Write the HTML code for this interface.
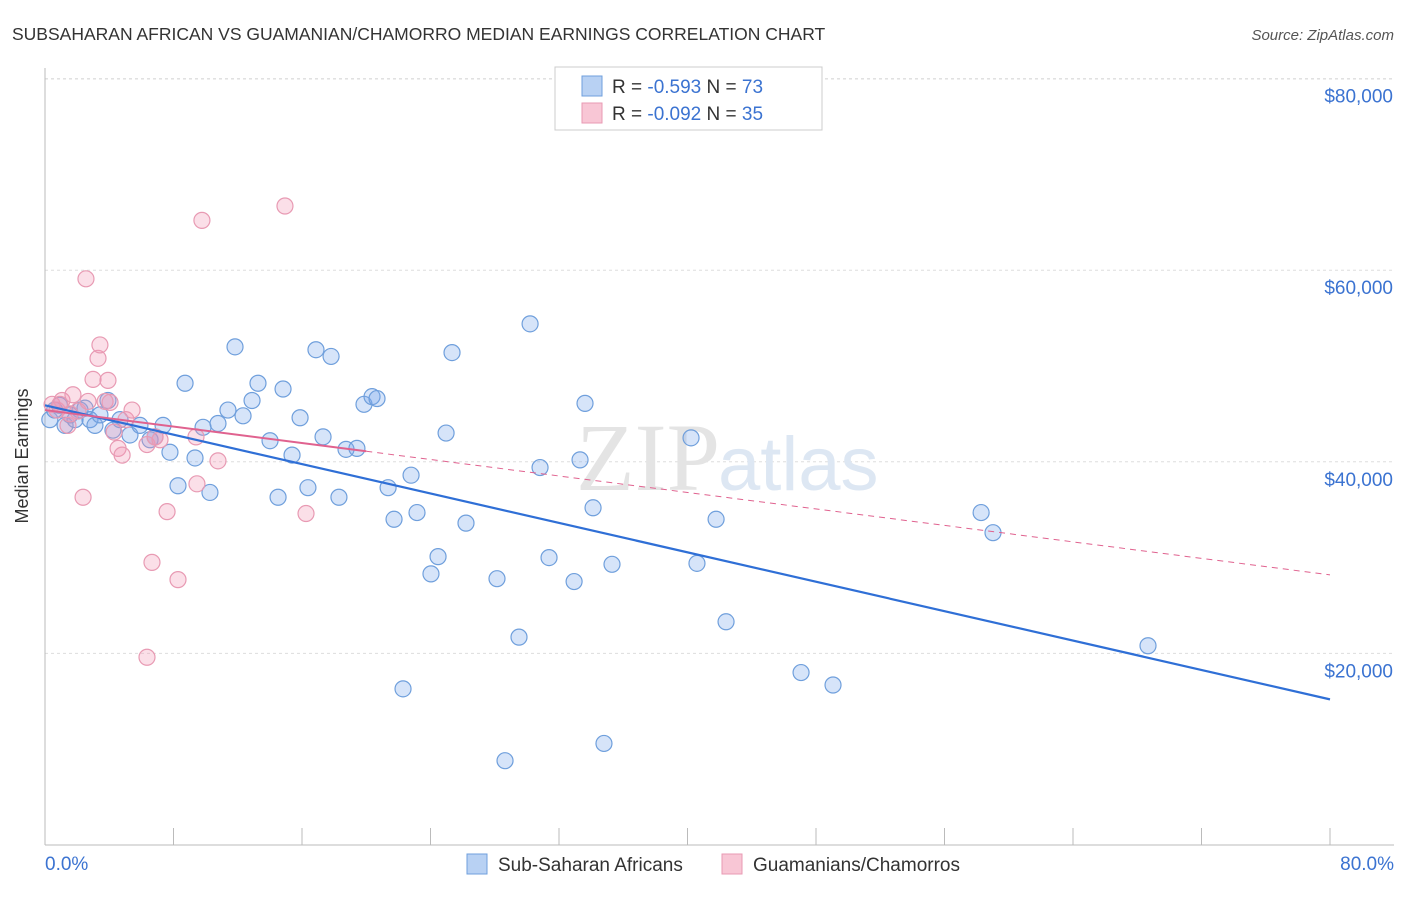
<!DOCTYPE html>
<html><head><meta charset="utf-8"><style>
body{margin:0;background:#fff;font-family:"Liberation Sans",sans-serif;}
</style></head><body>
<svg width="1406" height="892" xmlns="http://www.w3.org/2000/svg" font-family="Liberation Sans, sans-serif">
<text x="12" y="40" font-size="17.5" fill="#333">SUBSAHARAN AFRICAN VS GUAMANIAN/CHAMORRO MEDIAN EARNINGS CORRELATION CHART</text>
<text x="1394" y="40" font-size="15" fill="#555" font-style="italic" text-anchor="end">Source: ZipAtlas.com</text>
<g id="grid"></g>
<text x="720" y="490" font-size="96" fill="#e4e4e4" text-anchor="end" font-family="Liberation Serif, serif">ZIP</text>
<text x="718" y="490" font-size="76" fill="#dde7f3">atlas</text>
<g id="axes"></g>
<g id="pts"></g>
<g id="trend"></g>
<text x="28" y="456" font-size="18" fill="#333" text-anchor="middle" transform="rotate(-90 28 456)">Median Earnings</text>
<text x="45" y="870" font-size="19" fill="#3b73d1">0.0%</text>
<text x="1394" y="870" font-size="19" fill="#3b73d1" text-anchor="end">80.0%</text>
<g>
<rect x="555" y="67" width="267" height="63" fill="#fff" stroke="#ccc"/>
<rect x="582" y="76" width="20" height="20" fill="#b8d1f3" stroke="#6f9fdc"/>
<rect x="582" y="103" width="20" height="20" fill="#f8c6d5" stroke="#e89ab3"/>
<text x="612" y="93" font-size="19" fill="#333">R = <tspan fill="#3b73d1">-0.593</tspan>   N = <tspan fill="#3b73d1">73</tspan></text>
<text x="612" y="120" font-size="19" fill="#333">R = <tspan fill="#3b73d1">-0.092</tspan>   N = <tspan fill="#3b73d1">35</tspan></text>
</g>
<g>
<rect x="467" y="854" width="20" height="20" fill="#b8d1f3" stroke="#6f9fdc"/>
<text x="498" y="871" font-size="19" fill="#333">Sub-Saharan Africans</text>
<rect x="722" y="854" width="20" height="20" fill="#f8c6d5" stroke="#e89ab3"/>
<text x="753" y="871" font-size="19" fill="#333">Guamanians/Chamorros</text>
</g>
</svg>
<script>
const yTicks=[20000,40000,60000,80000];
const yTickLabels=["$20,000","$40,000","$60,000","$80,000"];
const xTicks=[0,8,16,24,32,40,48,56,64,72,80];
const blueX=[0.3,0.6,0.9,1.25,1.56,1.87,2.18,2.49,2.8,3.11,3.42,3.92,4.23,4.67,5.29,5.91,6.54,6.85,7.35,7.78,8.28,8.72,9.34,9.84,10.27,10.77,11.39,11.83,12.33,12.89,13.26,14.01,14.51,14.82,15.38,15.88,16.37,16.87,17.31,17.81,18.3,18.74,19.42,19.86,20.36,20.67,21.36,21.73,22.79,23.16,22.29,24.03,24.47,24.97,25.34,26.21,28.14,28.64,29.51,30.2,30.82,31.38,32.94,33.31,33.62,34.12,34.8,35.3,40.22,40.59,41.78,42.4,47.07,49.06,58.28,59.02,68.67];
const blueY=[44400,45400,45900,43800,44900,44400,45400,45600,44400,43800,44900,46400,43300,44400,42800,43800,42300,42600,43800,41000,37500,48200,40400,43600,36800,44000,45400,52000,44800,46400,48200,42200,36300,47600,40700,44600,37300,51700,42600,51000,36300,41300,41400,46000,46800,46600,37300,34000,38600,34700,16300,28300,30100,43000,51400,33600,27800,8800,21700,54400,39400,30000,27500,40200,46100,35200,10600,29300,42500,29400,34000,23300,18000,16700,34700,32600,20800];
const pinkX=[0.44,0.75,1.06,1.43,1.74,2.05,2.37,2.55,2.68,2.99,3.3,3.42,3.74,3.92,4.3,4.55,4.8,5.04,5.42,6.35,6.66,6.85,7.16,7.6,8.28,6.35,9.4,9.46,9.77,10.77,14.94,16.25,0.93,1.56,4.05];
const pinkY=[46000,45400,46400,43800,47000,45300,36300,59100,46300,48600,50800,52200,46300,48500,43100,41400,40700,44400,45400,41800,29500,42600,42300,34800,27700,19600,42600,37700,65200,40100,66700,34600,46000,45000,46200];
const blueTrend=[[0,45900],[80,15200]];
const pinkTrend=[[0,45400],[20,41100],[80,28200]];
const NS="http://www.w3.org/2000/svg";
const sx=v=>45+v/80*1285, sy=v=>845-v/20000*191.6;
function mk(t,a,p){const e=document.createElementNS(NS,t);for(const k in a)e.setAttribute(k,a[k]);p.appendChild(e);return e;}
const grid=document.getElementById('grid'),axes=document.getElementById('axes');
yTicks.forEach((v,i)=>{
 const l=mk('line',{x1:45,x2:1394,y1:sy(v),y2:sy(v),stroke:'#ddd','stroke-dasharray':'3,3'},grid);
 
 
 const t=mk('text',{x:1393,y:sy(v)+24,'font-size':19,fill:'#3b73d1','text-anchor':'end'},grid);
 t.textContent=yTickLabels[i];
 
 
});
mk('line',{x1:45,x2:1394,y1:79,y2:79,stroke:'#ddd','stroke-dasharray':'3,3'},grid);
mk('line',{x1:45,x2:45,y1:68,y2:845,stroke:'#bbb'},axes);
mk('line',{x1:45,x2:1394,y1:845,y2:845,stroke:'#bbb'},axes);
xTicks.forEach(v=>{const t=mk('line',{x1:sx(v),x2:sx(v),y1:828,y2:845,stroke:'#bbb'},axes);
 
 });
const pts=document.getElementById('pts');
blueX.forEach((x,i)=>{const c=mk('circle',{cx:sx(x),cy:sy(blueY[i]),r:8,fill:'rgba(120,165,235,0.3)',stroke:'#6f9fdc','stroke-width':1.2},pts);
 
 });
pinkX.forEach((x,i)=>{const c=mk('circle',{cx:sx(x),cy:sy(pinkY[i]),r:8,fill:'rgba(242,150,180,0.3)',stroke:'#e89ab3','stroke-width':1.2},pts);
 
 });
const tr=document.getElementById('trend');
const b=mk('line',{x1:sx(blueTrend[0][0]),y1:sy(blueTrend[0][1]),x2:sx(blueTrend[1][0]),y2:sy(blueTrend[1][1]),stroke:'#2f6fd6','stroke-width':2.2},tr);


const p1=mk('line',{x1:sx(pinkTrend[0][0]),y1:sy(pinkTrend[0][1]),x2:sx(pinkTrend[1][0]),y2:sy(pinkTrend[1][1]),stroke:'#e0628f','stroke-width':2},tr);


const p2=mk('line',{x1:sx(pinkTrend[1][0]),y1:sy(pinkTrend[1][1]),x2:sx(pinkTrend[2][0]),y2:sy(pinkTrend[2][1]),stroke:'#e0628f','stroke-width':1,'stroke-dasharray':'6,5'},tr);


</script>
</body></html>
